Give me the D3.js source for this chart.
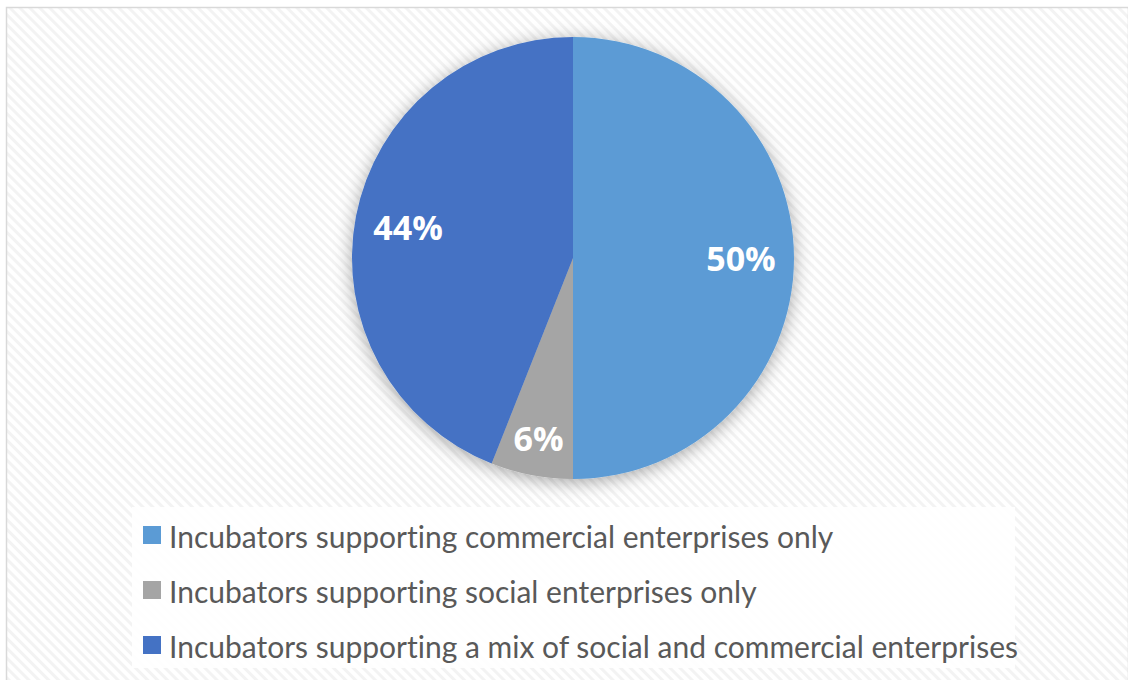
<!DOCTYPE html>
<html>
<head>
<meta charset="utf-8">
<script src="https://cdn.jsdelivr.net/npm/d3@7"></script>
<style>
  html, body { margin: 0; padding: 0; background: #fff; }
  svg { display: block; }
  text { font-variant-ligatures: none; }
</style>
</head>
<body>
<svg id="chart" width="1128" height="680"></svg>
<script>
// Share of incubators by the type of enterprise they support
const categories = [
  "Incubators supporting commercial enterprises only",
  "Incubators supporting social enterprises only",
  "Incubators supporting a mix of social and commercial enterprises"
];
const shares = [50, 6, 44];
const percentLabels = ["50%", "6%", "44%"];
const colors = ["#5B9BD5", "#A5A5A5", "#4472C4"];

const width = 1128, height = 680;
const svg = d3.select("#chart");
const defs = svg.append("defs");

// faint diagonal hatch used as the chart area fill
const pat = defs.append("pattern")
  .attr("id", "hatch")
  .attr("patternUnits", "userSpaceOnUse")
  .attr("width", 7).attr("height", 7)
  .attr("patternTransform", "rotate(-45)");
pat.append("rect").attr("width", 7).attr("height", 7).attr("fill", "#ffffff");
pat.append("rect").attr("width", 3).attr("height", 7).attr("fill", "#f3f3f3");

// soft shadow under the pie
const f = defs.append("filter").attr("id", "shadow")
  .attr("x", "-20%").attr("y", "-20%").attr("width", "140%").attr("height", "140%");
f.append("feDropShadow")
  .attr("dx", 0).attr("dy", 3)
  .attr("stdDeviation", 9)
  .attr("flood-color", "#000").attr("flood-opacity", 0.35);

// chart area with border
svg.append("rect")
  .attr("x", 6.5).attr("y", 7.5)
  .attr("width", width - 6).attr("height", height)
  .attr("fill", "url(#hatch)")
  .attr("stroke", "#d9d9d9").attr("stroke-width", 1.5);

// pie
const cx = 573, cy = 258, r = 221;
const pie = d3.pie().sort(null).value(d => d)(shares);
const arc = d3.arc().innerRadius(0).outerRadius(r);
const total = d3.sum(shares);

const g = svg.append("g").attr("transform", `translate(${cx},${cy})`);
const slices = g.append("g").attr("filter", "url(#shadow)");
slices.selectAll("path")
  .data(pie)
  .join("path")
  .attr("d", arc)
  .attr("fill", (d, i) => colors[i]);

// value labels, small slices pushed further toward the rim
g.selectAll("text")
  .data(pie)
  .join("text")
  .attr("transform", d => {
    const lr = d.value / total < 0.1 ? r * 0.83 : r * 0.76;
    const c = d3.arc().innerRadius(lr).outerRadius(lr).centroid(d);
    return `translate(${c[0]},${c[1]})`;
  })
  .attr("text-anchor", "middle")
  .attr("dominant-baseline", "central")
  .attr("fill", "#ffffff")
  .attr("font-family", "'Open Sans', sans-serif")
  .attr("font-weight", 700)
  .attr("font-size", 34)
  .text((d, i) => percentLabels[i]);

// legend
const legend = svg.append("g");
legend.append("rect")
  .attr("x", 132).attr("y", 507)
  .attr("width", 883).attr("height", 161)
  .attr("fill", "#ffffff").attr("fill-opacity", 0.85);

const rowY = d3.scalePoint().domain(d3.range(categories.length)).range([535, 645]);
const items = legend.selectAll("g.item")
  .data(categories)
  .join("g")
  .attr("class", "item")
  .attr("transform", (d, i) => `translate(143,${rowY(i)})`);
items.append("rect")
  .attr("x", 0).attr("y", -9)
  .attr("width", 18).attr("height", 18)
  .attr("fill", (d, i) => colors[i]);
items.append("text")
  .attr("x", 26).attr("y", 1)
  .attr("dominant-baseline", "central")
  .attr("fill", "#595959")
  .attr("font-family", "Lato, sans-serif")
  .attr("font-size", 30)
  .text(d => d);
</script>
</body>
</html>
